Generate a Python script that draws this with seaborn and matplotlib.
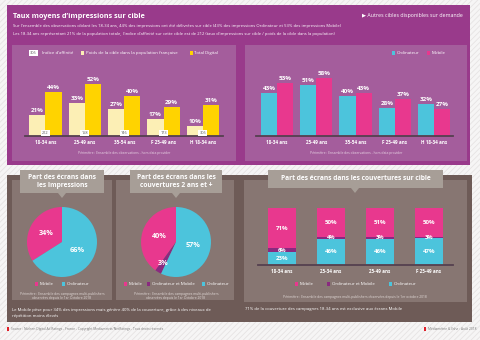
import numpy as np
import pandas as pd
import matplotlib
matplotlib.use("Agg")
import matplotlib.pyplot as plt
from matplotlib.patches import Rectangle, Polygon
import seaborn as sns

# ---------------- data ----------------
cats_top = ["18-34 ans", "25-49 ans", "35-54 ans", "F 25-49 ans", "H 18-34 ans"]
poids_cible = [21, 33, 27, 17, 10]
total_digital = [44, 52, 40, 29, 31]
indice_affinite = [212, 158, 146, 173, 305]
taux_ordinateur = [43, 51, 40, 28, 32]
taux_mobile = [53, 58, 43, 37, 27]

pie_impr_labels = ["Mobile", "Ordinateur"]
pie_impr_values = [34, 66]
pie_couv_labels = ["Mobile", "Ordinateur et Mobile", "Ordinateur"]
pie_couv_values = [40, 3, 57]

cats_stack = ["18-34 ans", "25-34 ans", "25-49 ans", "F 25-49 ans"]
stack_mobile = [71, 50, 51, 50]
stack_ord_mob = [6, 4, 3, 3]
stack_ordinateur = [23, 46, 46, 47]

# ---------------- style ----------------
sns.set_theme(style="white")
plt.rcParams["font.family"] = ["Open Sans", "DejaVu Sans"]
plt.rcParams["hatch.color"] = "#e6e3e3"
plt.rcParams["hatch.linewidth"] = 0.6

PINK = "#e8388e"
CYAN = "#4cc4dc"
PURP = "#8a2a80"
YEL = "#ffd300"
LYEL = "#fcefb5"
PURPLE_OUT = "#993a8b"
PURPLE_IN = "#a45d9c"
BROWN_OUT = "#6e5b57"
BROWN_IN = "#877672"
CALLOUT = "#a79e97"
AXLINE = "#55404f"

W, H = 480, 340
fig = plt.figure(figsize=(4.8, 3.4), dpi=100)


def axes_px(x0, y0, x1, y1):
    return fig.add_axes([x0 / W, 1 - y1 / H, (x1 - x0) / W, (y1 - y0) / H])


bg = fig.add_axes([0, 0, 1, 1])
bg.set_xlim(0, W)
bg.set_ylim(H, 0)
bg.axis("off")


def rect(x0, y0, x1, y1, color, **kw):
    bg.add_patch(Rectangle((x0, y0), x1 - x0, y1 - y0, facecolor=color,
                           edgecolor="none", lw=0, **kw))


def txt(x, y, s, size=3, color="white", ha="left", va="center", weight="normal", **kw):
    bg.text(x, y, s, fontsize=size, color=color, ha=ha, va=va, fontweight=weight, **kw)


def legend_item(x, y, color, label, size=3.2):
    rect(x, y - 1.6, x + 3.2, y + 1.6, color)
    txt(x + 4.5, y, label, size=size)


# background with faint diagonal stripes
bg.add_patch(Rectangle((0, 0), W, H, facecolor="#f6f5f5", edgecolor="#e6e3e3",
                       lw=0, hatch="//////"))

# ---------------- top purple panel ----------------
rect(7, 5, 470, 165, PURPLE_OUT)
rect(12, 45, 236, 161, PURPLE_IN)
rect(245, 45, 467, 161, PURPLE_IN)

txt(13, 16, "Taux moyens d\u2019impressions sur cible", size=5.2, weight="bold")
txt(463, 15, "\u25B6 Autres cibles disponibles sur demande", size=3.8, ha="right")
txt(13, 26, "Sur l\u2019ensemble des observations ciblant les 18-34 ans, 44% des impressions ont \u00e9t\u00e9 d\u00e9livr\u00e9es sur cible "
    "(43% des impressions Ordinateur et 53% des impressions Mobile)", size=3.0)
txt(13, 33.5, "Les 18-34 ans repr\u00e9sentant 21% de la population totale, l\u2019indice d\u2019affinit\u00e9 sur cette cible est de 212 "
    "(taux d\u2019impressions sur cible / poids de la cible dans la population)", size=3.0)

# legends top
bg.text(33.5, 53, "305", fontsize=2.8, color="#555555", ha="center", va="center",
        bbox=dict(boxstyle="square,pad=0.25", fc="white", ec="none"))
txt(42, 53, "Indice d\u2019affinit\u00e9", size=3.2)
legend_item(81, 53, LYEL, "Poids de la cible dans la population fran\u00e7aise")
legend_item(190, 53, YEL, "Total Digital")
legend_item(392, 53, CYAN, "Ordinateur")
legend_item(427, 53, PINK, "Mobile")

txt(124, 153, "P\u00e9rim\u00e8tre : Ensemble des observations - hors data provider", size=2.4,
    color="#ead6e6", ha="center")
txt(356, 153, "P\u00e9rim\u00e8tre : Ensemble des observations - hors data provider", size=2.4,
    color="#ead6e6", ha="center")


def style_bar_axes(ax, xlim, ylim):
    ax.set_xlim(*xlim)
    ax.set_ylim(*ylim)
    ax.patch.set_alpha(0)
    for s in ["top", "right", "left"]:
        ax.spines[s].set_visible(False)
    ax.spines["bottom"].set_color(AXLINE)
    ax.spines["bottom"].set_linewidth(1.3)
    ax.set_yticks([])
    ax.set_xlabel("")
    ax.set_ylabel("")
    ax.tick_params(axis="x", length=0, pad=3.2, labelsize=3.3, labelcolor="white")
    for t in ax.get_xticklabels():
        t.set_fontweight("bold")


# left bar chart
df_left = pd.DataFrame({
    "cat": cats_top * 2,
    "val": poids_cible + total_digital,
    "serie": ["Poids"] * 5 + ["Total"] * 5,
})
axL = axes_px(25, 70, 223, 136)
sns.barplot(data=df_left, x="cat", y="val", hue="serie", palette=[LYEL, YEL],
            width=0.82, saturation=1, ax=axL, legend=False, linewidth=0)
for c in axL.containers:
    axL.bar_label(c, fmt="%d%%", padding=1.2, fontsize=4.5, color="white", fontweight="bold")
for i, v in enumerate(indice_affinite):
    axL.text(i, 1.2, str(v), fontsize=2.8, color="#555555", ha="center", va="bottom",
             bbox=dict(boxstyle="square,pad=0.3", fc="white", ec="none"))
style_bar_axes(axL, (-0.52, 4.51), (0, 66))

# right bar chart
df_right = pd.DataFrame({
    "cat": cats_top * 2,
    "val": taux_ordinateur + taux_mobile,
    "serie": ["Ordinateur"] * 5 + ["Mobile"] * 5,
})
axR = axes_px(256, 70, 453, 136)
sns.barplot(data=df_right, x="cat", y="val", hue="serie", palette=[CYAN, PINK],
            width=0.82, saturation=1, ax=axR, legend=False, linewidth=0)
for c in axR.containers:
    axR.bar_label(c, fmt="%d%%", padding=1.2, fontsize=4.5, color="white", fontweight="bold")
style_bar_axes(axR, (-0.535, 4.48), (0, 66))

# ---------------- bottom brown panel ----------------
rect(7, 175, 472, 322, BROWN_OUT)
rect(12, 180, 112, 300, BROWN_IN)
rect(116, 180, 234, 300, BROWN_IN)
rect(244, 180, 467, 302, BROWN_IN)


def callout(x0, y0, x1, y1, tipx, tipy, lines, size=4.8):
    rect(x0, y0, x1, y1, CALLOUT)
    bg.add_patch(Polygon([[tipx - 4, y1], [tipx + 4, y1], [tipx, tipy]],
                         closed=True, facecolor=CALLOUT, edgecolor="none"))
    n = len(lines)
    cy = (y0 + y1) / 2
    for k, s in enumerate(lines):
        txt((x0 + x1) / 2, cy + (k - (n - 1) / 2) * 8.5, s, size=size, ha="center",
            weight="bold")


callout(20, 170, 104, 193, 62, 198, ["Part des \u00e9crans dans", "les Impressions"])
callout(130, 170, 222, 193, 176, 198, ["Part des \u00e9crans dans les", "couvertures 2 ans et +"])
callout(268, 170, 443, 188, 355, 193, ["Part des \u00e9crans dans les couvertures sur cible"])


def draw_pie(cx, cy, r, values, colors):
    ax = axes_px(cx - r, cy - r, cx + r, cy + r)
    wedges, _, autotexts = ax.pie(values, colors=colors, startangle=90, counterclock=True,
                                  autopct=lambda p: f"{p:.0f}%", pctdistance=0.5,
                                  wedgeprops=dict(linewidth=0),
                                  textprops=dict(color="white", fontsize=5.2,
                                                 fontweight="bold"))
    for w, t, v in zip(wedges, autotexts, values):
        if v < 10:
            ang = np.deg2rad((w.theta1 + w.theta2) / 2)
            t.set_position((0.72 * np.cos(ang), 0.72 * np.sin(ang)))
    ax.set_xlim(-1, 1)
    ax.set_ylim(-1, 1)
    ax.set_aspect("equal")
    ax.axis("off")
    return ax


draw_pie(62, 242, 35, pie_impr_values, [PINK, CYAN])
draw_pie(176, 242, 35, pie_couv_values, [PINK, PURP, CYAN])

legend_item(35, 284, PINK, "Mobile")
legend_item(62, 284, CYAN, "Ordinateur")
legend_item(124, 284, PINK, "Mobile")
legend_item(147, 284, PURP, "Ordinateur et Mobile")
legend_item(202, 284, CYAN, "Ordinateur")

for cx in (62, 176):
    txt(cx, 294, "P\u00e9rim\u00e8tre : Ensemble des campagnes multi-publishers", size=2.4,
        color="#e2dad8", ha="center")
    txt(cx, 298.5, "observ\u00e9es depuis le 1er Octobre 2018", size=2.4,
        color="#e2dad8", ha="center")

txt(12, 310, "Le Mobile p\u00e8se pour 34% des impressions mais g\u00e9n\u00e8re 40% de la couverture, "
    "gr\u00e2ce \u00e0 des niveaux de", size=3.1)
txt(12, 316, "r\u00e9p\u00e9tition moins \u00e9lev\u00e9s", size=3.1)

# stacked bars
cum_all = [a + b + c for a, b, c in zip(stack_mobile, stack_ord_mob, stack_ordinateur)]
cum_om = [b + c for b, c in zip(stack_ord_mob, stack_ordinateur)]
axS = axes_px(258, 205, 453, 265)
sns.barplot(x=cats_stack, y=cum_all, color=PINK, saturation=1, width=0.57, ax=axS,
            linewidth=0)
sns.barplot(x=cats_stack, y=cum_om, color=PURP, saturation=1, width=0.57, ax=axS,
            linewidth=0)
sns.barplot(x=cats_stack, y=stack_ordinateur, color=CYAN, saturation=1, width=0.57, ax=axS,
            linewidth=0)
for i in range(len(cats_stack)):
    o, m, mb = stack_ordinateur[i], stack_ord_mob[i], stack_mobile[i]
    axS.text(i, o / 2, f"{o}%", ha="center", va="center", color="white", fontsize=4.4,
             fontweight="bold")
    axS.text(i, o + m / 2, f"{m}%", ha="center", va="center", color="white", fontsize=4.2,
             fontweight="bold")
    axS.text(i, o + m + mb / 2, f"{mb}%", ha="center", va="center", color="white",
             fontsize=4.4, fontweight="bold")
style_bar_axes(axS, (-0.49, 3.49), (0, 105.3))

legend_item(295, 284, PINK, "Mobile")
legend_item(327, 284, PURP, "Ordinateur et Mobile")
legend_item(389, 284, CYAN, "Ordinateur")
txt(355, 297, "P\u00e9rim\u00e8tre : Ensemble des campagnes multi-publishers observ\u00e9es depuis le 1er octobre 2018",
    size=2.4, color="#e2dad8", ha="center")
txt(245, 309, "71% de la couverture des campagnes 18-34 ans est exclusive aux \u00e9crans Mobile", size=3.1)

# sources
rect(7, 327, 9, 331, "#e0202a")
txt(11, 329, "Source : Nielsen Digital Ad Ratings - France - Copyright Mediametrie/NetRatings - Tous droits r\u00e9serv\u00e9s",
    size=2.3, color="#7a7a7a")
rect(424, 327, 426, 331, "#e0202a")
txt(428, 329, "M\u00e9diam\u00e9trie & Eshe : Ao\u00fbt 2018", size=2.3, color="#7a7a7a")

fig.savefig("out.png", dpi=100)
